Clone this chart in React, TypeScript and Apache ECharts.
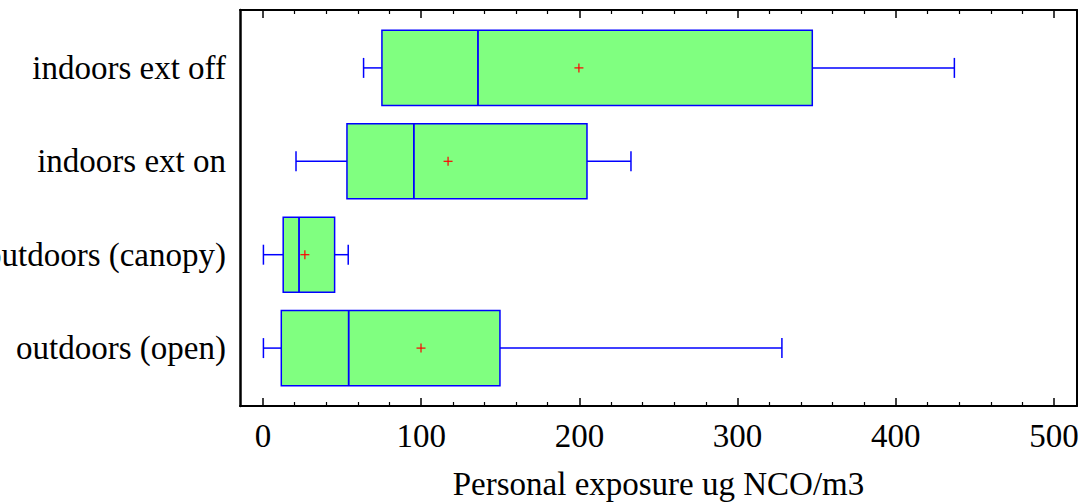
import React, { useEffect, useRef } from "react";
import * as echarts from "echarts";

const categories = ["outdoors (open)", "outdoors (canopy)", "indoors ext on", "indoors ext off"];
const whiskerLow = [0.3, 0.3, 20.9, 63.6];
const q1 = [11.6, 12.8, 53.1, 75.2];
const median = [54.2, 22.8, 95.4, 135.9];
const q3 = [149.8, 45.3, 204.8, 347.2];
const whiskerHigh = [328, 53.9, 232.6, 437];
const means = [99.9, 26.5, 117, 199.7];

const majorTicks = [0, 100, 200, 300, 400, 500];
const minorTicks = [
  20, 40, 60, 80, 120, 140, 160, 180, 220, 240, 260, 280, 320, 340, 360, 380, 420, 440, 460, 480,
];

const FONT = "Liberation Serif";
const BLUE = "#0000ff";

export default function App() {
  const ref = useRef<HTMLDivElement>(null);
  useEffect(() => {
    if (!ref.current) return;
    const chart = echarts.init(ref.current, undefined, { renderer: "svg" });
    const data = categories.map((_, i) => [i, whiskerLow[i], q1[i], median[i], q3[i], whiskerHigh[i], means[i]]);

    const renderItem = (params: any, api: any) => {
      const idx = api.value(0);
      const pLo = api.coord([api.value(1), idx]);
      const pQ1 = api.coord([api.value(2), idx]);
      const pMed = api.coord([api.value(3), idx]);
      const pQ3 = api.coord([api.value(4), idx]);
      const pHi = api.coord([api.value(5), idx]);
      const pMean = api.coord([api.value(6), idx]);
      const y = pLo[1];
      const boxH = api.size([0, 0.804])[1];
      const capH = api.size([0, 0.214])[1];
      const ls = { stroke: BLUE, lineWidth: 1.5 };
      const m = 4.5;
      return {
        type: "group",
        children: [
          { type: "line", shape: { x1: pLo[0], y1: y, x2: pQ1[0], y2: y }, style: ls },
          { type: "line", shape: { x1: pQ3[0], y1: y, x2: pHi[0], y2: y }, style: ls },
          { type: "line", shape: { x1: pLo[0], y1: y - capH / 2, x2: pLo[0], y2: y + capH / 2 }, style: ls },
          { type: "line", shape: { x1: pHi[0], y1: y - capH / 2, x2: pHi[0], y2: y + capH / 2 }, style: ls },
          {
            type: "rect",
            shape: { x: pQ1[0], y: y - boxH / 2, width: pQ3[0] - pQ1[0], height: boxH },
            style: { fill: "#80ff80", stroke: BLUE, lineWidth: 1.5 },
          },
          {
            type: "line",
            shape: { x1: pMed[0], y1: y - boxH / 2, x2: pMed[0], y2: y + boxH / 2 },
            style: { stroke: BLUE, lineWidth: 1.8 },
          },
          { type: "line", shape: { x1: pMean[0] - m, y1: y, x2: pMean[0] + m, y2: y }, style: { stroke: "#ff0000", lineWidth: 1.2 } },
          { type: "line", shape: { x1: pMean[0], y1: y - m, x2: pMean[0], y2: y + m }, style: { stroke: "#ff0000", lineWidth: 1.2 } },
        ],
      };
    };

    const xBase = {
      type: "value",
      min: -14.5,
      max: 514.5,
      splitLine: { show: false },
    };

    chart.setOption({
      animation: false,
      grid: { left: 240, top: 10, width: 837, height: 396, containLabel: false, outerBoundsMode: "none" },
      xAxis: [
        {
          ...xBase,
          position: "bottom",
          axisLine: { show: true, onZero: false, lineStyle: { color: "#000", width: 2 } },
          axisTick: { show: true, inside: true, length: 8, customValues: majorTicks, lineStyle: { color: "#000", width: 1.5 } },
          axisLabel: {
            show: true,
            customValues: majorTicks,
            margin: 13,
            fontFamily: FONT,
            fontSize: 33,
            color: "#000",
          },
          name: "Personal exposure ug NCO/m3",
          nameLocation: "middle",
          nameGap: 61,
          nameTextStyle: { fontFamily: FONT, fontSize: 33, color: "#000" },
        },
        {
          ...xBase,
          position: "bottom",
          axisLine: { show: false, onZero: false },
          axisTick: { show: true, inside: true, length: 4, customValues: minorTicks, lineStyle: { color: "#000", width: 1.2 } },
          axisLabel: { show: false },
        },
        {
          ...xBase,
          position: "top",
          axisLine: { show: true, onZero: false, lineStyle: { color: "#000", width: 2 } },
          axisTick: { show: true, inside: true, length: 8, customValues: majorTicks, lineStyle: { color: "#000", width: 1.5 } },
          axisLabel: { show: false },
        },
        {
          ...xBase,
          position: "top",
          axisLine: { show: false, onZero: false },
          axisTick: { show: true, inside: true, length: 4, customValues: minorTicks, lineStyle: { color: "#000", width: 1.2 } },
          axisLabel: { show: false },
        },
      ],
      yAxis: [
        {
          type: "value",
          min: -0.62,
          max: 3.62,
          position: "left",
          splitLine: { show: false },
          axisLine: { show: true, onZero: false, lineStyle: { color: "#000", width: 2.5 } },
          axisTick: { show: false },
          axisLabel: {
            show: true,
            customValues: [0, 1, 2, 3],
            formatter: (v: number) => categories[Math.round(v)] ?? "",
            margin: 14,
            fontFamily: FONT,
            fontSize: 33,
            color: "#000",
          },
        },
        {
          type: "value",
          min: -0.62,
          max: 3.62,
          position: "right",
          splitLine: { show: false },
          axisLine: { show: true, onZero: false, lineStyle: { color: "#000", width: 2 } },
          axisTick: { show: false },
          axisLabel: { show: false },
        },
      ],
      series: [
        {
          type: "custom",
          xAxisIndex: 0,
          yAxisIndex: 0,
          renderItem,
          encode: { x: [1, 2, 3, 4, 5, 6], y: 0 },
          data,
          clip: false,
        },
      ],
    });
    return () => chart.dispose();
  }, []);

  return (
    <div
      ref={ref}
      style={{ position: "absolute", left: 0, top: 0, width: 1083, height: 502, background: "#fff" }}
    />
  );
}
